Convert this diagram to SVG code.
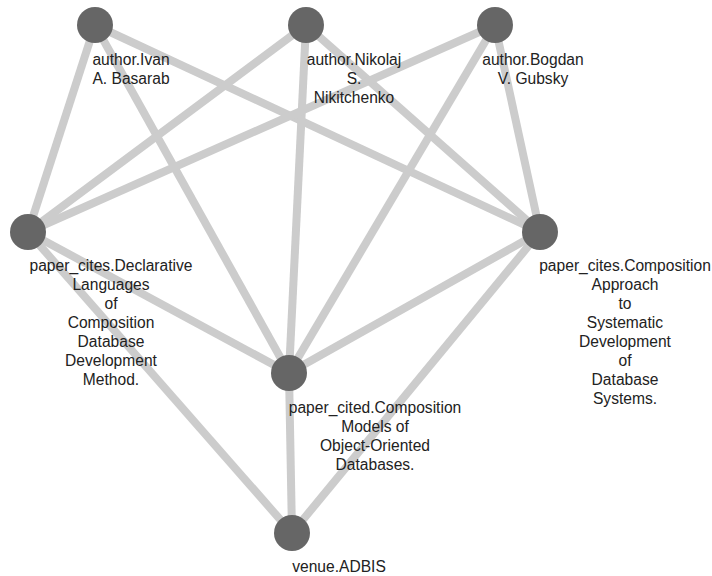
<svg xmlns="http://www.w3.org/2000/svg" width="712" height="576" viewBox="0 0 712 576">
<style>
.e{stroke:#cccccc;stroke-width:8;fill:none}
.n{fill:#666666}
.t{font-family:"Liberation Sans",Arial,sans-serif;font-size:15.6px;fill:#222222;text-anchor:middle}
</style>
<rect width="712" height="576" fill="#ffffff"/>
<g id="edges">
<line class="e" x1="95" y1="25" x2="28" y2="232"/>
<line class="e" x1="95" y1="25" x2="289" y2="373"/>
<line class="e" x1="95" y1="25" x2="540" y2="232"/>
<line class="e" x1="306" y1="25" x2="28" y2="232"/>
<line class="e" x1="306" y1="25" x2="289" y2="373"/>
<line class="e" x1="306" y1="25" x2="540" y2="232"/>
<line class="e" x1="495" y1="25" x2="28" y2="232"/>
<line class="e" x1="495" y1="25" x2="289" y2="373"/>
<line class="e" x1="495" y1="25" x2="540" y2="232"/>
<line class="e" x1="28" y1="232" x2="289" y2="373"/>
<line class="e" x1="28" y1="232" x2="292" y2="533"/>
<line class="e" x1="540" y1="232" x2="289" y2="373"/>
<line class="e" x1="540" y1="232" x2="292" y2="533"/>
<line class="e" x1="289" y1="373" x2="292" y2="533"/>
</g>
<g id="n-ivan">
<circle class="n" cx="95" cy="25" r="18"/>
<text class="t"><tspan x="131" y="65">author.Ivan</tspan><tspan x="131" y="84">A. Basarab</tspan></text>
</g>
<g id="n-nikolaj">
<circle class="n" cx="306" cy="25" r="18"/>
<text class="t"><tspan x="354" y="65">author.Nikolaj</tspan><tspan x="354" y="84">S.</tspan><tspan x="354" y="103">Nikitchenko</tspan></text>
</g>
<g id="n-bogdan">
<circle class="n" cx="495" cy="25" r="18"/>
<text class="t"><tspan x="533" y="65">author.Bogdan</tspan><tspan x="533" y="84">V. Gubsky</tspan></text>
</g>
<g id="n-declarative">
<circle class="n" cx="28" cy="232" r="18"/>
<text class="t"><tspan x="111" y="271">paper_cites.Declarative</tspan><tspan x="111" y="290">Languages</tspan><tspan x="111" y="309">of</tspan><tspan x="111" y="328">Composition</tspan><tspan x="111" y="347">Database</tspan><tspan x="111" y="366">Development</tspan><tspan x="111" y="385">Method.</tspan></text>
</g>
<g id="n-approach">
<circle class="n" cx="540" cy="232" r="18"/>
<text class="t"><tspan x="625" y="271">paper_cites.Composition</tspan><tspan x="625" y="290">Approach</tspan><tspan x="625" y="309">to</tspan><tspan x="625" y="328">Systematic</tspan><tspan x="625" y="347">Development</tspan><tspan x="625" y="366">of</tspan><tspan x="625" y="385">Database</tspan><tspan x="625" y="404">Systems.</tspan></text>
</g>
<g id="n-cited">
<circle class="n" cx="289" cy="373" r="18"/>
<text class="t"><tspan x="375" y="413">paper_cited.Composition</tspan><tspan x="375" y="432">Models of</tspan><tspan x="375" y="451">Object-Oriented</tspan><tspan x="375" y="470">Databases.</tspan></text>
</g>
<g id="n-venue">
<circle class="n" cx="292" cy="533" r="18"/>
<text class="t"><tspan x="339" y="572">venue.ADBIS</tspan></text>
</g>
</svg>
